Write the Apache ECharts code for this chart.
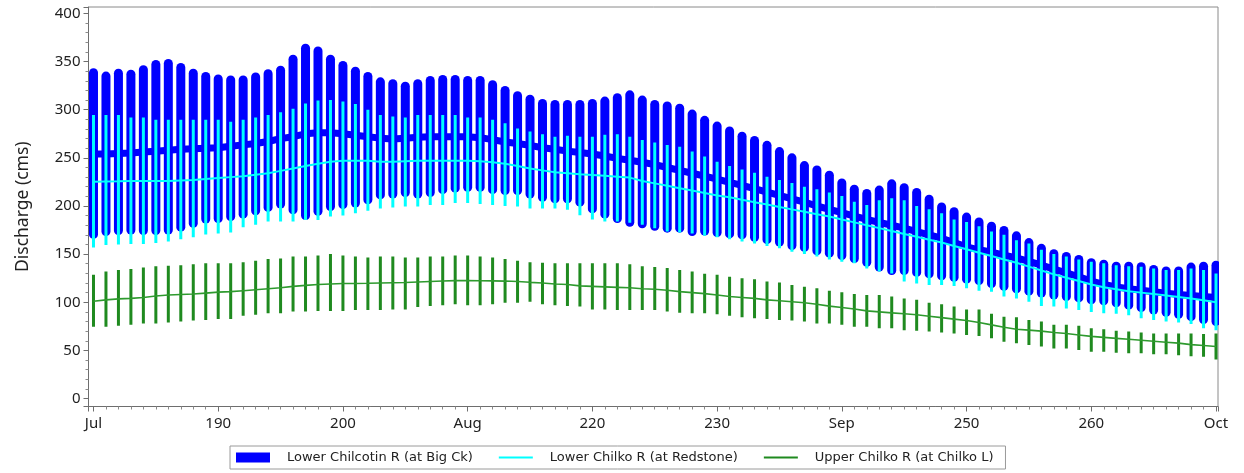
<!DOCTYPE html>
<html>
<head>
<meta charset="utf-8">
<script src="https://cdn.jsdelivr.net/npm/echarts@6/dist/echarts.min.js"></script>
<style>
html,body{margin:0;padding:0;background:#fff;}
#chart{width:1244px;height:473px;}
</style>
</head>
<body>
<div id="chart"></div>
<script>
// Day of year (Jul 1 .. Oct 1 tick marks at 180 .. 270)
const days = [180,181,182,183,184,185,186,187,188,189,190,191,192,193,194,195,196,197,198,199,200,201,202,203,204,205,206,207,208,209,210,211,212,213,214,215,216,217,218,219,220,221,222,223,224,225,226,227,228,229,230,231,232,233,234,235,236,237,238,239,240,241,242,243,244,245,246,247,248,249,250,251,252,253,254,255,256,257,258,259,260,261,262,263,264,265,266,267,268,269,270];

const xTickValues = [180,190,200,210,220,230,240,250,260,270];
const xTickLabels = ['Jul','190','200','Aug','220','230','Sep','250','260','Oct'];
const yTickValues = [0,50,100,150,200,250,300,350,400];
const yTickLabels = ['0','50','100','150','200','250','300','350','400'];

const seriesNames = ['Lower Chilcotin R (at Big Ck)','Lower Chilko R (at Redstone)','Upper Chilko R (at Chilko L)'];

// Lower Chilcotin R (at Big Ck)
const chilcotinMax = [338.5,335,338,337,341.5,347,348,344,338,334.5,
 332,331,331,334,337.5,341,352.5,364,361,352.5,
 346,340,334.5,329,327,324.5,327,330.5,331.5,331.5,
 330.5,330.5,326,320,314.5,311,306.5,305.5,305.5,305.5,
 306.5,309,312.5,315.5,310,305.5,304,301.5,295.5,289,
 283,278,272.5,268,263,256.5,250,242,237.5,232,
 224,217.5,213,216.5,223,219,214,207,199,194,
 188.5,183.5,179,174.5,169,162,156,150.5,147.5,144.5,
 141,139.5,137.5,137.5,137,134,132.5,132.5,136.5,137.5,138.5];
const chilcotinMin = [170.5,173.5,174.5,175,174.5,174.5,175,178,182,186.5,
 187,189,191.5,195,198.5,202,196,190,194.5,199.5,
 201.5,203,206.5,211.5,212.5,214,212.5,214,217,218.5,
 219.5,219.5,217,216,216,212.5,209,207.5,207.5,204,
 197,191.5,187,183,181.5,179,177,177,173.5,174,
 172.5,171,170,167.5,165,162.5,159,157,153.5,151,
 148.5,145.5,141.5,136.5,133,133,131,129.5,127.5,126,
 124,122.5,119.5,116.5,114,111.5,109.5,107.5,106,104.5,
 102.5,101.5,99.5,97,94.5,92,89.5,87.5,85,82,80];
const chilcotinMean = [254,254,254.5,255,256,257,258,259,259.5,260,
 260.5,262,263.5,265,267,270,272,275,276,276,
 275,273.5,272,270.5,269.5,270.5,271.5,272,272,272,
 272,271,269,266.5,265,263,260.5,259,257,255.5,
 254,252,249.5,247.5,245.5,243,240,237,234,231,
 228,224.5,221.5,218,214.5,211,207.5,204,200,196.5,
 193,189.5,186,183,180,177,173.5,170,166.5,162,
 157.5,154.5,152,149,146,142.5,138.5,134.5,130.5,126.5,
 122,118.5,116,114,112.5,111,109.5,108,107,106,105];

// Lower Chilko R (at Redstone)
const redstoneMax = [294.5,294.5,294.5,292,292,289.5,289.5,289.5,289.5,289.5,
 289.5,287.5,289.5,292,294.5,297.5,301,306.5,309.5,310,
 308.5,306,300,294.5,293,292,294.5,294.5,294.5,294.5,
 292,292,289.5,286,280.5,277.5,274.5,272,273,272,
 272,274,274.5,272,268.5,266,263.5,261.5,256.5,251.5,
 246,241.5,238,234.5,230.5,227,224,220,217.5,214,
 210.5,204.5,201,206,208,206,200,196.5,192.5,186,
 183.5,179,173.5,170,164.5,161,154.5,150,147.5,144.5,
 142,140.5,138.5,137.5,137,135,133.5,133.5,135,133.5,130];
const redstoneMin = [157,159.5,160,160.5,160.5,161.5,163,165.5,167.5,170.5,
 171.5,172.5,178,180.5,184,184,184,185.5,185.5,189,
 190,192.5,195,197.5,198.5,199.5,199.5,201,201,203,
 203,202,201,200,199.5,197.5,197.5,197.5,196,190.5,
 186,184,184,182.5,180.5,177,173.5,172.5,171.5,169,
 167.5,165.5,163,161,158.5,156,152.5,150,147.5,144.5,
 142,140.5,135,132,130,121.5,119.5,118,118,117,
 114.5,112,111,106,104,100.5,96,95.5,93.5,92,
 90,88.5,88,86.5,83.5,81.5,80,79,77.5,73,71];
const redstoneMean = [225.3,225.5,225.7,226,226,226,226,226.5,227,228,
 229,230,231,232.5,234,236.5,239,241.5,244,246,
 247,247,247,246,246,246.5,247,247,247,247,
 247,246.5,245.5,244,241.5,239,237,235,234,233,
 232.3,231.5,230.5,229.5,226,223.5,221,218.5,216,213.5,
 211,209,206.5,204,201.5,199,196.5,194,191.5,189,
 186,183,180,177,174,171,168,165,162,158.5,
 155,151.5,148,144.5,141,137,133,129,125.5,122,
 118.5,115.5,113.5,111.5,110,108.5,107,105.5,104,102,100];

// Upper Chilko R (at Chilko L)
const chilkoLMax = [128.5,132,133.5,134.5,136,137.5,138,138.5,139.5,140.5,
 140.5,140.5,141.5,143,145,145.5,147.5,147.5,148.5,150,
 148.5,147.5,146.5,147.5,147.5,146.5,146.5,147.5,147.5,148.5,
 148.5,147.5,146.5,145,143,141.5,141,140.5,140.5,140.5,
 140.5,140.5,140.5,139.5,137.5,136.5,135.5,133.5,132,129.5,
 128.5,126.5,125,124,121.5,120.5,118,116,114.5,112,
 110.5,108.5,107.5,107.5,106,104,102.5,99.5,98,95.5,
 92.5,92.5,88,85,84.5,81.5,80,76.5,76.5,75.5,
 73,72,70.5,69.5,68.5,67.5,67.5,67.5,67.5,67,67.5];
const chilkoLMin = [74.5,74.5,75.5,76.5,78,78,79,80,81,81.5,
 82.5,82.5,86,87,88.5,88.5,90.5,90.5,91,91,
 91,92,92,92,92.5,92.5,95,96,97,98,
 97,97,98,99.5,99.5,100.5,98,97,96,95.5,
 92.5,92.5,92,92,92,92,90.5,89,88.5,88.5,
 87.5,86,84.5,83.5,82.5,81.5,81,80,78,78,
 76.5,74.5,74.5,73,73,71,70.5,69.5,68.5,67.5,
 66,65,62.5,59,57.5,55.5,54,52,52,50.5,
 48.5,48.5,47.5,47,47,46,46,45,44,43.5,40.5];
const chilkoLMean = [101,102.5,103.5,104,105,106.5,107.5,108,108.5,109.5,
 110.5,111,112,113,114,115,116.5,117.5,118.5,119,
 119.5,119.5,119.7,120,120.3,120.5,121,121.5,122,122.5,
 122.5,122.3,122.2,122,121.5,120.7,120,119,118.5,117,
 116.5,116,115.5,115,114,113.5,112.5,111,110,109,
 107.5,106,105,104,102.5,101.5,100.5,99.5,98,96,
 94.5,93,91,90,89,88,87,85.5,84,82.5,
 81,79,76.5,74,72,71,70,68.5,67.5,66,
 64.5,63.5,62.5,61.5,60.5,59.5,58.5,57.5,56,55,54];

const colors = {blue:'#0000FF', cyan:'#00FFFF', green:'#1F8A1F'};

function rangeData(mins, maxs){ return days.map((d,i)=>[d, mins[i], maxs[i]]); }
function meanData(means){ return days.map((d,i)=>[d, means[i]]); }
function barRenderer(width, color, cap){
  return function(params, api){
    const x = api.value(0), lo = api.value(1), hi = api.value(2);
    const p1 = api.coord([x, lo]);
    const p2 = api.coord([x, hi]);
    return {type:'line', shape:{x1:p1[0], y1:p1[1], x2:p2[0], y2:p2[1]},
            style:{stroke:color, lineWidth:width, lineCap:cap, fill:null}};
  };
}

const font = 'Noto Sans';
const legendFont = 'DejaVu Sans';
const chart = echarts.init(document.getElementById('chart'), null, {renderer:'canvas'});

const option = {
  animation:false,
  backgroundColor:'#ffffff',
  grid:{left:88.5, right:26, top:7, bottom:66.5, show:true, borderColor:'#8a8a8a', borderWidth:1, containLabel:false},
  legend:{
    left:230, top:446, orient:'horizontal',
    padding:[5,12,5,6], itemWidth:34, itemHeight:10, itemGap:26,
    borderColor:'#9a9a9a', borderWidth:1,
    selectedMode:false,
    textStyle:{fontFamily:legendFont, fontSize:13, color:'#222', padding:[0,0,0,12]},
    data:[
      {name:seriesNames[0], icon:'rect', itemStyle:{color:colors.blue}},
      {name:seriesNames[1], icon:'path://M0,0H34V2H0Z', itemStyle:{color:colors.cyan}},
      {name:seriesNames[2], icon:'path://M0,0H34V2H0Z', itemStyle:{color:colors.green}}
    ]
  },
  xAxis:{
    type:'value', min:179.6, max:270.16, minInterval:10, maxInterval:10,
    axisLine:{show:true, onZero:false, lineStyle:{color:'#6e6e6e', width:1}},
    axisTick:{show:true, length:5, lineStyle:{color:'#6e6e6e'}},
    minorTick:{show:true, splitNumber:10, length:3, lineStyle:{color:'#8a8a8a'}},
    splitLine:{show:false},
    axisLabel:{show:true, margin:10, fontFamily:font, fontSize:15, color:'#222',
      showMinLabel:false, showMaxLabel:true,
      formatter:function(v){ const i = xTickValues.indexOf(Math.round(v*100)/100); return i>=0 ? xTickLabels[i] : ''; }}
  },
  yAxis:{
    type:'value', min:-8.31, max:406.75, minInterval:50, maxInterval:50,
    name:'Discharge (cms)', nameLocation:'middle', nameGap:56,
    nameTextStyle:{fontFamily:font, fontSize:17.5, color:'#222'},
    axisLine:{show:true, onZero:false, lineStyle:{color:'#6e6e6e', width:1}},
    axisTick:{show:true, length:5, lineStyle:{color:'#6e6e6e'}},
    minorTick:{show:true, splitNumber:5, length:3, lineStyle:{color:'#8a8a8a'}},
    splitLine:{show:false},
    axisLabel:{show:true, margin:8, fontFamily:font, fontSize:15, color:'#222',
      showMinLabel:false, showMaxLabel:false,
      formatter:function(v){ const i = yTickValues.indexOf(Math.round(v*100)/100); return i>=0 ? yTickLabels[i] : ''; }}
  },
  series:[
    {name:seriesNames[0], type:'custom', clip:true, z:1, renderItem:barRenderer(9, colors.blue, 'round'),
     encode:{x:0, y:[1,2]}, data:rangeData(chilcotinMin, chilcotinMax)},
    {name:seriesNames[0], type:'line', z:2, symbol:'none', showSymbol:false, clip:true,
     lineStyle:{color:colors.blue, width:7}, itemStyle:{color:colors.blue}, data:meanData(chilcotinMean)},
    {name:seriesNames[1], type:'custom', clip:true, z:3, renderItem:barRenderer(3, colors.cyan, 'butt'),
     encode:{x:0, y:[1,2]}, data:rangeData(redstoneMin, redstoneMax)},
    {name:seriesNames[1], type:'line', z:4, symbol:'none', showSymbol:false, clip:true,
     lineStyle:{color:colors.cyan, width:2}, itemStyle:{color:colors.cyan}, data:meanData(redstoneMean)},
    {name:seriesNames[2], type:'custom', clip:true, z:5, renderItem:barRenderer(3, colors.green, 'butt'),
     encode:{x:0, y:[1,2]}, data:rangeData(chilkoLMin, chilkoLMax)},
    {name:seriesNames[2], type:'line', z:6, symbol:'none', showSymbol:false, clip:true,
     lineStyle:{color:'#2E9A2E', width:1.6}, itemStyle:{color:colors.green}, data:meanData(chilkoLMean)}
  ]
};
chart.setOption(option);
</script>
</body>
</html>
